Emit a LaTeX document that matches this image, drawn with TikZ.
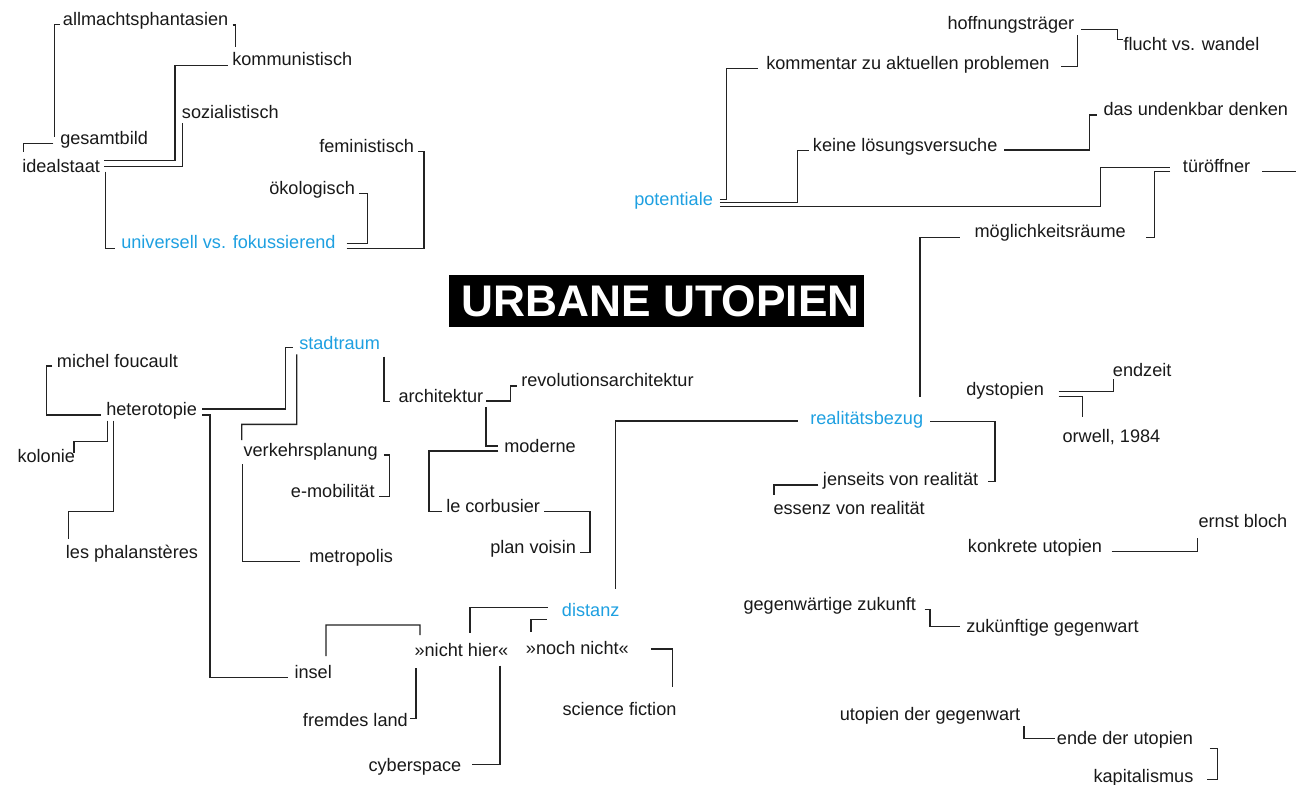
\documentclass[tikz,border=0pt]{standalone}
\usepackage{fontspec}
\setmainfont{Liberation Sans}
\usetikzlibrary{calc}
\definecolor{ublue}{RGB}{30,160,225}
\definecolor{txt}{RGB}{25,25,25}
\definecolor{linec}{RGB}{35,35,35}
\begin{document}
\begin{tikzpicture}[x=0.75pt,y=-0.75pt,
  lbl/.style={anchor=base west, inner sep=0pt, text=txt, font=\fontsize{13.6}{16}\selectfont},
  blu/.style={lbl, text=ublue},
  con/.style={draw=linec, line width=1.05pt},
  titlebox/.style={fill=black, text=white, font=\fontsize{33.2}{38}\selectfont\bfseries,
    inner xsep=3.2pt, inner ysep=0pt, minimum height=38.8pt, anchor=west}]
\fill[white] (0,0) rectangle (1296,785);
\useasboundingbox (0,0) rectangle (1296,785);

% title
\node[titlebox] (title) at (449,301) {\hspace*{6.3pt}URBANE UTOPIEN};

% top left cluster
\node[lbl] (allm) at (62.7,25.5) {allmachtsphantasien};
\node[lbl] (komm) at (232,65.7) {kommunistisch};
\node[lbl] (sozi) at (181.7,118.3) {sozialistisch};
\node[lbl] (gesamt) at (60,144) {gesamtbild};
\node[lbl] (ideal) at (22,172.3) {idealstaat};
\node[lbl] (femi) at (319,152.3) {feministisch};
\node[lbl] (oeko) at (269,194.3) {ökologisch};
\node[blu] (univ) at (121,248.6) {universell vs. fokussierend};

% top right cluster
\node[blu] (pot) at (634,205.7) {potentiale};
\node[lbl] (komm2) at (766,69.3) {kommentar zu aktuellen problemen};
\node[lbl] (keine) at (812.7,151.3) {keine lösungsversuche};
\node[lbl] (hoff) at (947.3,29.3) {hoffnungsträger};
\node[lbl] (flucht) at (1123.3,50.7) {flucht vs. wandel};
\node[lbl] (undenk) at (1103.3,115) {das undenkbar denken};
\node[lbl] (tuer) at (1182.7,172.3) {türöffner};
\node[lbl] (moegl) at (974.3,237.3) {möglichkeitsräume};
\coordinate (edgeA) at (1296,115);
\coordinate (edgeB) at (1296,171.7);

% left middle cluster
\node[blu] (stadt) at (299,349.5) {stadtraum};
\node[lbl] (michel) at (56.7,367.3) {michel foucault};
\node[lbl] (hetero) at (106,415.3) {heterotopie};
\node[lbl] (kolonie) at (17.3,462.7) {kolonie};
\node[lbl] (phal) at (65.7,558) {les phalanstères};
\node[lbl] (verk) at (243.3,456.3) {verkehrsplanung};
\node[lbl] (emob) at (290.7,497) {e-mobilität};
\node[lbl] (metro) at (309,562.7) {metropolis};
\node[lbl] (arch) at (398.3,402.3) {architektur};
\node[lbl] (revo) at (521,386) {revolutionsarchitektur};
\node[lbl] (mod) at (504,452.3) {moderne};
\node[lbl] (corb) at (446,512.7) {le corbusier};
\node[lbl] (plan) at (490,553.3) {plan voisin};

% bottom middle cluster
\node[lbl] (insel) at (294.3,678.3) {insel};
\node[lbl] (nhier) at (414.3,656.7) {»nicht hier«};
\node[lbl] (noch) at (525.7,654) {»noch nicht«};
\node[blu] (dist) at (561.7,616.7) {distanz};
\node[lbl] (scifi) at (562.3,715.7) {science fiction};
\node[lbl] (fremd) at (302.7,726) {fremdes land};
\node[lbl] (cyber) at (368.3,771) {cyberspace};

% right middle cluster
\node[blu] (real) at (810,424.3) {realitätsbezug};
\node[lbl] (jens) at (822.7,485.7) {jenseits von realität};
\node[lbl] (essenz) at (773.3,514.7) {essenz von realität};
\node[lbl] (dyst) at (966,395.3) {dystopien};
\node[lbl] (endz) at (1112.7,376.3) {endzeit};
\node[lbl] (orwell) at (1062.3,442.8) {orwell, 1984};
\node[lbl] (bloch) at (1198.3,527.6) {ernst bloch};
\node[lbl] (konk) at (967.7,552.7) {konkrete utopien};
\node[lbl] (gegen) at (743.3,610) {gegenwärtige zukunft};
\node[lbl] (zuk) at (966,632.5) {zukünftige gegenwart};
\node[lbl] (utop) at (839.5,720.2) {utopien der gegenwart};
\node[lbl] (ende) at (1056.7,744.5) {ende der utopien};
\node[lbl] (kapi) at (1093.3,782.3) {kapitalismus};

% connectors: top left
\draw[con] ($(gesamt.west |- 0,136.7)+(-5.7,0)$) |- ($(allm.west |- 0,24.3)+(-2.7,0)$);
\draw[con] ($(gesamt.west |- 0,143.3)+(-6.7,0)$) -| (23.3,151.7);
\draw[con] ($(allm.east |- 0,25)+(4,0)$) -| (235.3,47.3);
\draw[con] ($(ideal.east |- 0,160.7)+(4.3,0)$) -| (175,65.7) -- ($(komm.west |- 0,65.7)+(-3.7,0)$);
\draw[con] ($(ideal.east |- 0,166.7)+(4.3,0)$) -| (182.3,123.3);
\draw[con] ($(ideal.east |- 0,171.7)+(5.3,0)$) |- ($(univ.west |- 0,248.3)+(-6,0)$);
\draw[con] ($(univ.east |- 0,243.3)+(10.7,0)$) -| (367.7,193.3) -- ($(oeko.east |- 0,193.3)+(3.3,0)$);
\draw[con] ($(univ.east |- 0,248.3)+(10.7,0)$) -| (424,151.7) -- ($(femi.east |- 0,151.7)+(4,0)$);

% connectors: top right
\draw[con] ($(pot.east |- 0,199.3)+(6.7,0)$) -| (726.7,68.3) -- ($(komm2.west |- 0,68.3)+(-7.7,0)$);
\draw[con] ($(pot.east |- 0,202.7)+(6.7,0)$) -| (797.3,150.7) -- ($(keine.west |- 0,150.7)+(-3.7,0)$);
\draw[con] ($(pot.east |- 0,206.7)+(6.7,0)$) -| (1100.7,167.3) -- ($(tuer.west |- 0,167.3)+(-12.7,0)$);
\draw[con] ($(tuer.west |- 0,171.7)+(-12.7,0)$) -| (1154.3,237.3) -- ($(moegl.east |- 0,237.3)+(20,0)$);
\draw[con] ($(komm2.east |- 0,66.7)+(11.7,0)$) -| (1077.3,35);
\draw[con] ($(hoff.east |- 0,29.3)+(6.7,0)$) -| (1117.3,39.3) -- ($(flucht.west |- 0,39.3)+(-0.6,0)$);
\draw[con] ($(keine.east |- 0,150)+(6.7,0)$) -| (1089.3,115) -- ($(undenk.west |- 0,115)+(-6,0)$);
\draw[con] ($(undenk.east |- 0,115)+(8,0)$) -- (edgeA);
\draw[con] ($(tuer.east |- 0,171.7)+(11.7,0)$) -- (edgeB);

% connectors: left middle
\draw[con] ($(michel.west |- 0,366)+(-4.4,0)$) -| (46.7,415) -- ($(hetero.west |- 0,415)+(-5,0)$);
\draw[con] ($(hetero.west |- 0,420.7)+(1.7,0)$) -- (107.7,441.7) -| (74,453.3);
\draw[con] ($(hetero.west |- 0,420.7)+(7.3,0)$) -- (113.3,511.7) -| (68.3,539.3);
\draw[con] ($(hetero.east |- 0,409)+(5,0)$) -| (285.7,347.3) -- ($(stadt.west |- 0,347.3)+(-5.7,0)$);
\draw[con] ($(hetero.east |- 0,415)+(5,0)$) -| (210,677.3) -- ($(insel.west |- 0,677.3)+(-6,0)$);
\draw[con] ($(stadt.west |- 0,354.3)+(-2.3,0)$) -- (296.7,424.3) -| (241.7,440);
\draw[con] ($(verk.west |- 0,464)+(-0.6,0)$) |- ($(metro.west |- 0,561.7)+(-9,0)$);
\draw[con] ($(verk.east |- 0,455)+(6,0)$) -| (389.3,496.7) -- ($(emob.east |- 0,496.7)+(4.3,0)$);
\draw[con] ($(stadt.east |- 0,356.7)+(4,0)$) |- ($(arch.west |- 0,401.7)+(-8.3,0)$);
\draw[con] ($(arch.east |- 0,401)+(2.7,0)$) -| (510.7,386) -- ($(revo.west |- 0,386)+(-4.3,0)$);
\draw[con] ($(arch.east |- 0,407.3)+(2.7,0)$) |- ($(mod.west |- 0,446)+(-5.7,0)$);
\draw[con] ($(mod.west |- 0,451)+(-5.7,0)$) -| (429,511.7) -- ($(corb.west |- 0,511.7)+(-4.3,0)$);
\draw[con] ($(corb.east |- 0,511.7)+(4,0)$) -| (590,552.7) -- ($(plan.east |- 0,552.7)+(3.3,0)$);

% connectors: bottom middle
\draw[con] ($(real.west |- 0,421)+(-12.3,0)$) -| (615.7,589);
\draw[con] ($(dist.west |- 0,607.7)+(-14,0)$) -| (470,633.3);
\draw[con] ($(dist.west |- 0,619.3)+(-15,0)$) -| (531,632.3);
\draw[con] ($(noch.east |- 0,649)+(21.7,0)$) -| (672.7,686.7);
\draw[con] ($(nhier.east |- 0,665.7)+(-8.4,0)$) |- ($(cyber.east |- 0,764.3)+(10,0)$);
\draw[con] ($(insel.west |- 0,656)+(31.7,0)$) |- (420,625) -- ($(nhier.west |- 0,635)+(5.7,0)$);
\draw[con] ($(nhier.west |- 0,668.3)+(1.7,0)$) |- ($(fremd.east |- 0,718.3)+(2.3,0)$);

% connectors: right middle
\draw[con] ($(real.east |- 0,421.7)+(6.6,0)$) -| (995,481.7) -- ($(jens.east |- 0,481.7)+(9.3,0)$);
\draw[con] ($(jens.west |- 0,485)+(-4.4,0)$) -| (774,495);
\draw[con] ($(real.west |- 0,396.7)+(110,0)$) |- ($(moegl.west |- 0,237.3)+(-14.3,0)$);
\draw[con] ($(dyst.east |- 0,391.7)+(14.4,0)$) -| (1113.3,379.3);
\draw[con] ($(dyst.east |- 0,396.7)+(14.4,0)$) -| (1082.7,417.3);
\draw[con] ($(konk.east |- 0,551.7)+(9.3,0)$) -| (1197.3,538.3);
\draw[con] ($(gegen.east |- 0,609.3)+(8.3,0)$) -| (930,626.7) -- ($(zuk.west |- 0,626.7)+(-6,0)$);
\draw[con] ($(utop.east |- 0,726)+(3.3,0)$) |- ($(ende.west |- 0,738.3)+(-1.7,0)$);
\draw[con] ($(ende.east |- 0,748.3)+(16.6,0)$) -| (1217.3,779.3) -- ($(kapi.east |- 0,779.3)+(13.4,0)$);
\end{tikzpicture}
\end{document}
